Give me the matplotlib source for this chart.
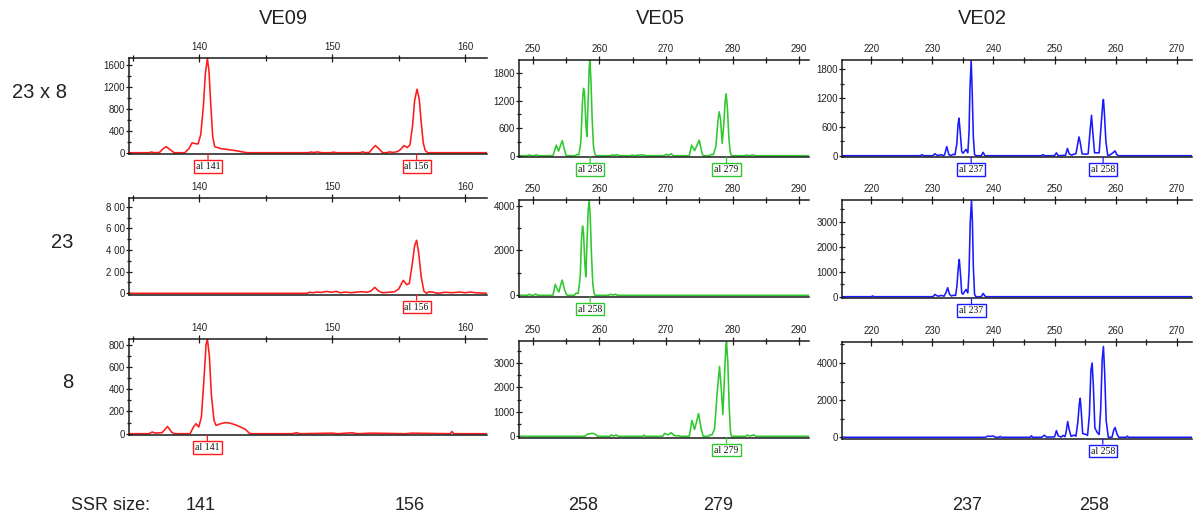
import matplotlib
matplotlib.use("Agg")
import matplotlib.pyplot as plt
import matplotlib.transforms as mtransforms
from matplotlib.ticker import MultipleLocator, FixedLocator, FixedFormatter

plt.rcParams['font.family'] = ['Liberation Sans', 'DejaVu Sans']

# marker names / genotypes / ssr sizes
markers = ['VE09', 'VE05', 'VE02']
genotypes = ['23 x 8', '23', '8']
ssr_sizes = ['141', '156', '258', '279', '237', '258']
colors = ['#ff1a1a', '#2ec82e', '#1a1aff']

# traces: (size bp, signal RFU)
ve09_23x8 = [(134.7, 0), (136.2, 0), (136.4, 12), (136.6, 0), (137.0, 5), (137.25, 70), (137.5, 110),
             (137.75, 65), (138.1, 0), (138.9, 0), (139.2, 70), (139.45, 180), (139.7, 165), (139.9, 160),
             (140.1, 330), (140.3, 850), (140.45, 1450), (140.6, 1720), (140.72, 1500), (140.85, 900),
             (141.0, 300), (141.15, 110), (141.6, 75), (142.2, 55), (142.8, 35), (143.3, 12), (143.6, 0),
             (148.2, 0), (148.4, 12), (148.6, 4), (148.9, 14), (149.2, 0), (149.9, 0), (150.1, 10),
             (150.3, 0), (152.1, 0), (152.3, 15), (152.5, 0), (152.8, 5), (153.0, 70), (153.25, 130),
             (153.5, 75), (153.8, 0), (154.1, 0), (154.3, 15), (154.6, 5), (154.9, 20), (155.15, 60),
             (155.4, 130), (155.65, 95), (155.85, 140), (156.05, 500), (156.2, 950), (156.38, 1160),
             (156.55, 980), (156.7, 550), (156.85, 180), (157.0, 40), (157.2, 0), (161.7, 0)]
ve05_23x8 = [(247.9, 0), (249.1, 0), (249.4, 15), (249.8, 0), (250.2, 0), (250.5, 18), (250.8, 0),
             (253.0, 0), (253.5, 230), (253.85, 100), (254.4, 330), (254.7, 150), (255.0, 0), (256.3, 0),
             (256.6, 25), (256.9, 20), (257.2, 300), (257.45, 1200), (257.6, 1470), (257.75, 1380),
             (257.95, 700), (258.1, 420), (258.3, 1200), (258.45, 1900), (258.55, 2090), (258.7, 1700),
             (258.9, 800), (259.1, 200), (259.3, 40), (259.5, 0), (261.7, 0), (261.9, 20), (262.2, 5),
             (262.6, 25), (262.9, 0), (264.7, 0), (264.9, 15), (265.3, 0), (265.9, 15), (266.7, 15),
             (267.0, 0), (269.8, 0), (270.0, 30), (270.4, 10), (270.8, 40), (271.1, 0), (273.5, 0),
             (273.85, 230), (274.3, 110), (275.0, 340), (275.4, 60), (275.6, 0), (276.6, 0), (276.8, 30),
             (277.1, 20), (277.5, 200), (277.8, 750), (278.0, 960), (278.2, 800), (278.45, 270),
             (278.7, 700), (278.9, 1200), (279.05, 1350), (279.25, 1000), (279.45, 400), (279.65, 80),
             (279.85, 0), (281.9, 0), (282.1, 15), (282.5, 0), (283.1, 15), (283.4, 0), (291.5, 0)]
ve02_23x8 = [(215.2, 0), (228.0, 0), (228.3, 20), (228.6, 0), (230.1, 0), (230.4, 40), (230.8, 5),
             (231.5, 20), (231.8, 0), (232.0, 20), (232.35, 190), (232.7, 20), (233.1, 5), (233.4, 30),
             (233.7, 20), (234.0, 250), (234.2, 650), (234.35, 780), (234.55, 500), (234.8, 90),
             (235.0, 50), (235.5, 130), (235.8, 60), (236.0, 500), (236.15, 1400), (236.35, 1980),
             (236.5, 1400), (236.7, 400), (236.9, 20), (237.2, 0), (238.0, 0), (238.3, 70), (238.6, 0),
             (247.8, 0), (248.1, 20), (248.4, 0), (250.0, 0), (250.3, 60), (250.6, 0), (251.8, 10),
             (252.1, 150), (252.4, 40), (252.8, 10), (253.1, 30), (253.5, 40), (253.8, 250), (254.0, 390),
             (254.2, 280), (254.5, 40), (255.1, 30), (255.5, 40), (255.8, 500), (256.05, 840),
             (256.25, 500), (256.55, 60), (256.9, 60), (257.3, 60), (257.6, 600), (257.9, 1100),
             (258.0, 1170), (258.15, 900), (258.4, 300), (258.7, 10), (259.0, 10), (259.55, 60),
             (259.9, 100), (260.2, 20), (260.5, 0), (272.5, 0)]
ve09_23 = [(134.7, 0), (148.1, 0), (148.3, 10), (148.6, 5), (148.8, 12), (149.2, 8), (149.6, 18), (149.9, 10),
           (150.3, 18), (150.6, 5), (151.0, 12), (151.4, 5), (151.8, 10), (152.2, 15), (152.6, 10),
           (152.9, 20), (153.2, 55), (153.5, 20), (153.8, 5), (154.3, 10), (154.7, 15), (155.0, 40),
           (155.35, 120), (155.6, 80), (155.8, 90), (156.0, 250), (156.2, 440), (156.35, 490), (156.5, 380),
           (156.7, 150), (156.9, 20), (157.1, 0), (157.3, 15), (157.6, 10), (157.9, 0), (158.5, 10),
           (159.0, 5), (159.6, 12), (160.0, 5), (160.4, 12), (160.8, 5), (161.7, 0)]
ve05_23 = [(247.9, 0), (249.2, 0), (249.4, 50), (249.7, 0), (250.1, 0), (250.4, 60), (250.7, 0), (253.0, 0),
           (253.35, 490), (253.7, 250), (253.9, 150), (254.2, 500), (254.4, 680), (254.7, 300), (255.0, 50),
           (255.2, 0), (256.2, 0), (256.5, 100), (256.8, 80), (257.1, 800), (257.3, 2500), (257.45, 3090),
           (257.6, 2800), (257.8, 1400), (257.95, 830), (258.1, 2200), (258.3, 3800), (258.45, 4250),
           (258.6, 3600), (258.8, 1800), (259.0, 500), (259.2, 80), (259.35, 0), (261.4, 0), (261.6, 50),
           (262.0, 10), (262.4, 50), (262.7, 0), (291.5, 0)]
ve02_23 = [(215.2, 0), (220.0, 0), (220.2, 30), (220.4, 0), (230.1, 0), (230.4, 90), (230.9, 20), (231.5, 50),
           (231.9, 20), (232.2, 150), (232.5, 360), (232.8, 100), (233.1, 30), (233.5, 60), (233.8, 50),
           (234.0, 400), (234.25, 1200), (234.4, 1490), (234.6, 900), (234.8, 150), (235.0, 100),
           (235.5, 290), (235.8, 150), (236.0, 1000), (236.2, 3000), (236.4, 3850), (236.55, 3000),
           (236.7, 1200), (236.9, 100), (237.1, 0), (238.0, 0), (238.3, 130), (238.7, 0), (272.5, 0)]
ve09_8 = [(134.7, 0), (136.2, 0), (136.45, 15), (136.7, 5), (137.2, 10), (137.6, 65), (137.9, 15), (138.1, 0),
          (139.3, 0), (139.55, 60), (139.75, 90), (139.95, 60), (140.15, 150), (140.35, 500), (140.5, 800),
          (140.6, 850), (140.75, 700), (140.9, 350), (141.1, 120), (141.25, 75), (141.6, 90), (141.95, 100),
          (142.3, 95), (142.7, 80), (143.1, 60), (143.45, 40), (143.75, 5), (143.9, 0), (147.0, 0),
          (147.3, 8), (147.6, 0), (150.0, 5), (150.4, 0), (151.5, 8), (151.9, 0), (153.0, 5), (155.5, 0),
          (156.0, 5), (158.9, 0), (159.0, 20), (159.15, 0), (161.7, 0)]
ve05_8 = [(247.9, 0), (257.8, 0), (258.2, 90), (258.6, 110), (259.0, 120), (259.4, 80), (259.7, 0), (261.6, 0),
          (261.8, 60), (262.1, 10), (262.5, 60), (262.8, 0), (266.5, 0), (266.7, 50), (266.9, 0), (269.5, 0),
          (269.8, 120), (270.3, 60), (270.8, 150), (271.2, 40), (271.6, 10), (271.9, 30), (272.1, 0),
          (273.5, 0), (273.9, 650), (274.3, 280), (274.9, 930), (275.3, 300), (275.6, 0), (276.4, 0),
          (276.6, 60), (276.9, 50), (277.3, 300), (277.7, 1800), (278.05, 2860), (278.3, 2000),
          (278.55, 890), (278.8, 2500), (279.0, 3700), (279.1, 3880), (279.3, 3000), (279.5, 1200),
          (279.7, 150), (279.85, 0), (282.0, 0), (282.2, 50), (282.6, 10), (283.2, 60), (283.5, 0), (291.5, 0)]
ve02_8 = [(215.2, 0), (238.7, 0), (239.0, 60), (239.5, 50), (240.0, 70), (240.3, 0), (240.9, 0), (241.1, 50),
          (241.3, 0), (246.0, 0), (246.2, 80), (246.4, 0), (247.9, 0), (248.3, 110), (248.7, 10), (250.0, 20),
          (250.3, 360), (250.6, 80), (251.1, 10), (251.4, 100), (251.7, 30), (251.9, 300), (252.15, 850),
          (252.4, 400), (252.7, 50), (253.2, 120), (253.5, 60), (253.8, 800), (254.05, 1800), (254.2, 2100),
          (254.35, 1500), (254.6, 200), (255.1, 160), (255.4, 100), (255.7, 1200), (255.95, 3600),
          (256.15, 4000), (256.35, 2800), (256.6, 500), (257.0, 250), (257.3, 150), (257.55, 1500),
          (257.8, 4200), (258.0, 4890), (258.2, 3500), (258.45, 900), (258.8, 0), (259.4, 0), (259.7, 400),
          (259.9, 530), (260.2, 200), (260.5, 0), (261.7, 0), (261.9, 60), (262.1, 0), (272.5, 0)]

# allele calls: (position bp, called size)
ve09_23x8_calls = [(140.65, 141), (156.35, 156)]
ve05_23x8_calls = [(258.6, 258), (279.1, 279)]
ve02_23x8_calls = [(236.35, 237), (257.95, 258)]
ve09_23_calls = [(156.35, 156)]
ve05_23_calls = [(258.6, 258)]
ve02_23_calls = [(236.4, 237)]
ve09_8_calls = [(140.6, 141)]
ve05_8_calls = [(279.1, 279)]
ve02_8_calls = [(257.9, 258)]

traces = [[ve09_23x8, ve05_23x8, ve02_23x8],
          [ve09_23, ve05_23, ve02_23],
          [ve09_8, ve05_8, ve02_8]]
calls = [[ve09_23x8_calls, ve05_23x8_calls, ve02_23x8_calls],
         [ve09_23_calls, ve05_23_calls, ve02_23_calls],
         [ve09_8_calls, ve05_8_calls, ve02_8_calls]]

# y-axis top value, major step, minor step per panel
y_top = [[1730, 2090, 1990], [878, 4254, 3867], [851, 3889, 5113]]
y_major = [[400, 600, 600], [200, 2000, 1000], [200, 1000, 2000]]
y_minor = [[200, 300, 300], [100, 1000, 500], [100, 500, 1000]]

# layout (pixels)
W, H = 1193, 518
col_x = [(129, 487), (519, 809), (842, 1192)]
col_xlim = [(134.7, 161.65), (247.9, 291.5), (215.2, 272.5)]
row_px = [[(58, 152.7), (60, 155.7), (60, 155.7)],
          [(198.3, 293.3), (200, 295.3), (200, 296.7)],
          [(339, 433.7), (341.3, 436.3), (342.3, 437.3)]]

fig = plt.figure(figsize=(W / 100, H / 100), dpi=100)

for r in range(3):
    for c in range(3):
        top_px, zero_px = row_px[r][c]
        bot_px = zero_px + 1.5
        x0, x1 = col_x[c]
        ax = fig.add_axes([x0 / W, 1 - bot_px / H, (x1 - x0) / W, (bot_px - top_px) / H])
        t = y_top[r][c]
        ybot = -t * 1.5 / (zero_px - top_px)

        pts = traces[r][c]
        ax.plot([p[0] for p in pts], [p[1] for p in pts], color=colors[c], lw=1.15,
                solid_joinstyle='round')
        ax.set_xlim(*col_xlim[c])
        ax.set_ylim(ybot, t)

        for s in ['top', 'left', 'bottom']:
            ax.spines[s].set_color('#1a1a1a')
            ax.spines[s].set_linewidth(1.1)
        ax.spines['right'].set_visible(False)

        ax.xaxis.set_major_locator(MultipleLocator(10))
        ax.xaxis.set_minor_locator(MultipleLocator(5))
        ax.tick_params(axis='x', which='both', top=True, bottom=False, labeltop=True,
                       labelbottom=False, direction='inout', color='#1a1a1a', width=0.9,
                       labelsize=7, pad=1.5, labelcolor='#222222')
        ax.tick_params(axis='x', which='major', length=6)
        ax.tick_params(axis='x', which='minor', length=5)

        ax.yaxis.set_major_locator(MultipleLocator(y_major[r][c]))
        ax.yaxis.set_minor_locator(MultipleLocator(y_minor[r][c]))
        ax.tick_params(axis='y', which='both', direction='inout', color='#1a1a1a', width=0.9,
                       labelsize=7, pad=1, labelcolor='#222222')
        ax.tick_params(axis='y', which='major', length=4)
        ax.tick_params(axis='y', which='minor', length=3)
        if r == 1 and c == 0:
            ticks = [0, 200, 400, 600, 800]
            ax.yaxis.set_major_locator(FixedLocator(ticks))
            ax.yaxis.set_major_formatter(FixedFormatter(['0', '2 00', '4 00', '6 00', '8 00']))

        trans = mtransforms.blended_transform_factory(ax.transData, ax.transAxes)
        for pos, size in calls[r][c]:
            ax.annotate('al %d' % size, xy=(pos, 0), xycoords=trans,
                        xytext=(0, -8.8), textcoords='offset points',
                        ha='center', va='center', fontsize=7, family='Liberation Serif',
                        color='#111111', annotation_clip=False,
                        bbox=dict(boxstyle='square,pad=0.2', fc='white', ec=colors[c], lw=1.0),
                        arrowprops=dict(arrowstyle='-', color=colors[c], lw=0.9,
                                        shrinkA=0, shrinkB=0))

# column titles
title_x = [283, 660, 982]
for name, xp in zip(markers, title_x):
    fig.text(xp / W, 1 - 19 / H, name, ha='center', va='center', fontsize=14.5, color='#222222')

# row labels
row_lab = [(40, 92), (62, 242), (68, 383)]
for g, (xp, yp) in zip(genotypes, row_lab):
    fig.text(xp / W, 1 - yp / H, g, ha='center', va='center', fontsize=14.5, color='#222222')

# bottom ssr sizes
fig.text(110 / W, 1 - 506 / H, 'SSR size:', ha='center', va='center', fontsize=13, color='#222222')
ssr_x = [201, 410, 583, 718, 967, 1094]
for s, xp in zip(ssr_sizes, ssr_x):
    fig.text(xp / W, 1 - 506 / H, s, ha='center', va='center', fontsize=13, color='#222222')

fig.savefig('out.png', dpi=100, facecolor='white')
